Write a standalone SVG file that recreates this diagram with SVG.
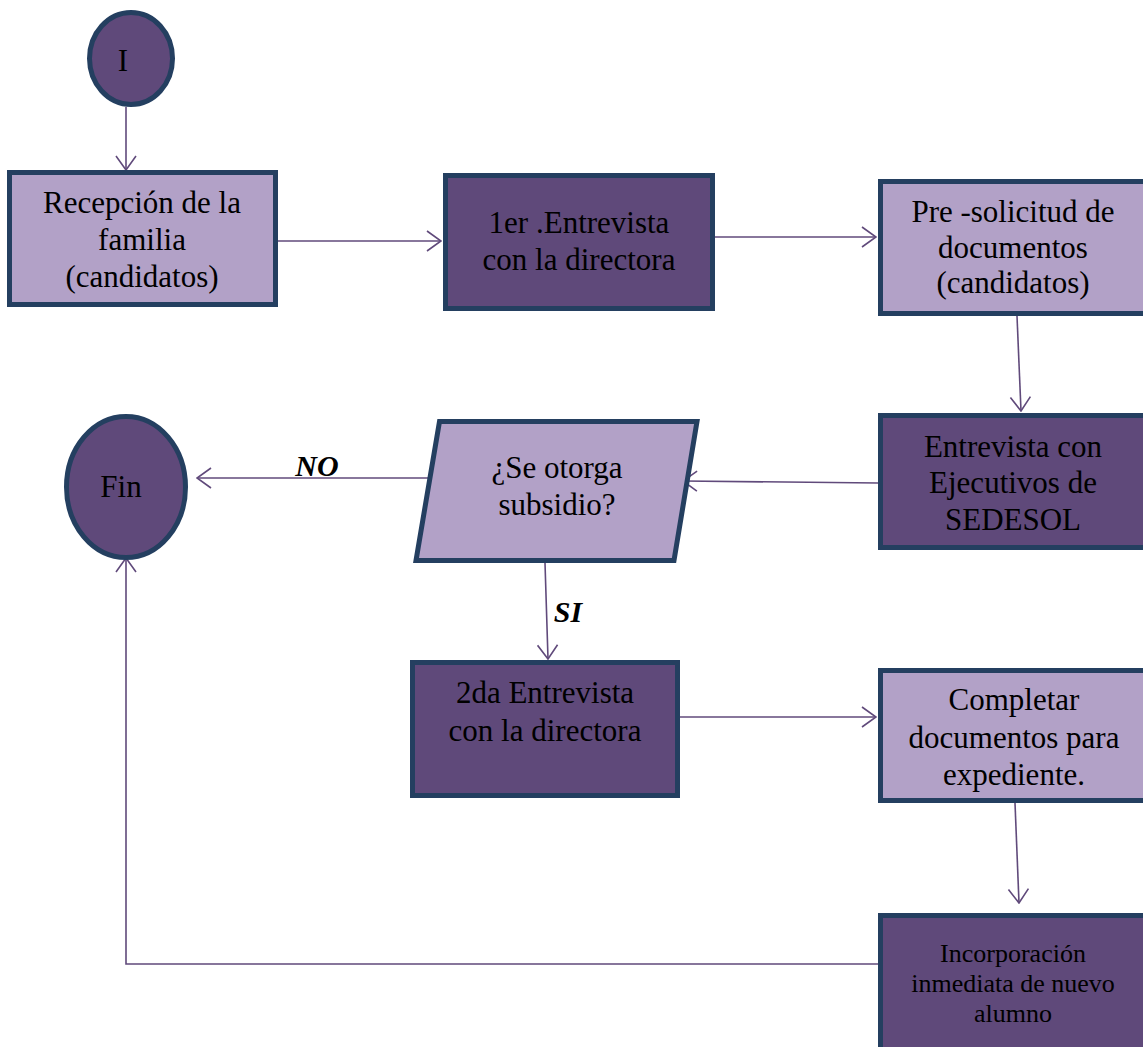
<svg xmlns="http://www.w3.org/2000/svg" width="1143" height="1047" viewBox="0 0 1143 1047">
<style>
.dark{fill:#5F497A;stroke:#243F60;stroke-width:5}
.light{fill:#B2A1C7;stroke:#243F60;stroke-width:5}
.t{font-family:"Liberation Serif","Times New Roman",serif;font-size:31px;fill:#000;text-anchor:middle}
.s{font-size:26px}
.lbl{font-family:"Liberation Serif","Times New Roman",serif;font-size:30px;font-weight:bold;font-style:italic;fill:#000;text-anchor:middle}
.c{fill:none;stroke:#604A7B;stroke-width:1.6}
</style>
<defs>
<marker id="ah" markerUnits="userSpaceOnUse" viewBox="0 0 16 22" refX="15" refY="11" markerWidth="16" markerHeight="22" orient="auto">
<path d="M1,1 L15,11 L1,21" fill="none" stroke="#604A7B" stroke-width="1.6"/>
</marker>
</defs>
<rect width="1143" height="1047" fill="#fff"/>
<g id="connectors">
<line class="c" x1="126" y1="107" x2="126" y2="170" marker-end="url(#ah)"/>
<line class="c" x1="278" y1="241" x2="441" y2="241" marker-end="url(#ah)"/>
<line class="c" x1="715" y1="237" x2="876" y2="237" marker-end="url(#ah)"/>
<line class="c" x1="1017" y1="316" x2="1021" y2="411" marker-end="url(#ah)"/>
<line class="c" x1="878" y1="483" x2="683" y2="481" marker-end="url(#ah)"/>
<line class="c" x1="432" y1="478" x2="197" y2="478" marker-end="url(#ah)"/>
<line class="c" x1="545" y1="563" x2="548" y2="659" marker-end="url(#ah)"/>
<line class="c" x1="680" y1="717" x2="876" y2="717" marker-end="url(#ah)"/>
<line class="c" x1="1015" y1="803" x2="1019" y2="903" marker-end="url(#ah)"/>
<polyline class="c" points="878,964 126,964 126,558" marker-end="url(#ah)"/>
<text class="lbl" x="317" y="476">NO</text>
<text class="lbl" x="568" y="622">SI</text>
</g>
<g id="inicio">
<ellipse class="dark" cx="131" cy="58.5" rx="41.5" ry="46"/>
<text class="t" x="123" y="71">I</text>
</g>
<g id="recepcion">
<rect class="light" x="9.5" y="172.5" width="266" height="132"/>
<text class="t" x="142" y="213">Recepción de la</text>
<text class="t" x="142" y="250">familia</text>
<text class="t" x="142" y="287">(candidatos)</text>
</g>
<g id="entrevista1">
<rect class="dark" x="445.5" y="175.5" width="267" height="133"/>
<text class="t" x="579" y="233">1er .Entrevista</text>
<text class="t" x="579" y="270">con la directora</text>
</g>
<g id="presolicitud">
<rect class="light" x="880.5" y="181.5" width="270" height="132"/>
<text class="t" x="1013" y="222">Pre -solicitud de</text>
<text class="t" x="1013" y="258">documentos</text>
<text class="t" x="1013" y="293">(candidatos)</text>
</g>
<g id="sedesol">
<rect class="dark" x="880.5" y="415.5" width="270" height="132"/>
<text class="t" x="1013" y="457">Entrevista con</text>
<text class="t" x="1013" y="493">Ejecutivos de</text>
<text class="t" x="1013" y="530">SEDESOL</text>
</g>
<g id="decision">
<polygon class="light" points="439.5,421.5 697,421.5 674,560.5 416,560.5"/>
<text class="t" x="557" y="478">¿Se otorga</text>
<text class="t" x="557" y="515">subsidio?</text>
</g>
<g id="fin">
<ellipse class="dark" cx="126" cy="487" rx="59.5" ry="70.5"/>
<text class="t" x="121" y="497">Fin</text>
</g>
<g id="entrevista2">
<rect class="dark" x="412.5" y="662.5" width="265" height="133"/>
<text class="t" x="545" y="703">2da Entrevista</text>
<text class="t" x="545" y="741">con la directora</text>
</g>
<g id="completar">
<rect class="light" x="880.5" y="670.5" width="270" height="130"/>
<text class="t" x="1014" y="710">Completar</text>
<text class="t" x="1014" y="748">documentos para</text>
<text class="t" x="1014" y="785">expediente.</text>
</g>
<g id="incorporacion">
<rect class="dark" x="880.5" y="915.5" width="270" height="140"/>
<text class="t s" x="1013" y="962">Incorporación</text>
<text class="t s" x="1013" y="992">inmediata de nuevo</text>
<text class="t s" x="1013" y="1022">alumno</text>
</g>
</svg>
